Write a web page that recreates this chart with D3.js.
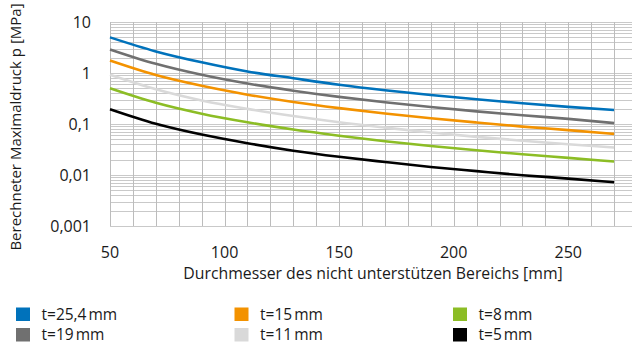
<!DOCTYPE html>
<html>
<head>
<meta charset="utf-8">
<script src="https://cdn.jsdelivr.net/npm/d3@7"></script>
<style>
  body { margin: 0; background: #fff; }
  text { font-family: "Open Sans", "Noto Sans", sans-serif; fill: #1a1a1a; }
</style>
</head>
<body>
<div id="my_dataviz"></div>
<script>
// x values (Durchmesser in mm)
var diameters = [50, 70, 90, 110, 130, 150, 170, 190, 210, 230, 250, 270];

// pressure values per plate thickness (MPa)
var p_25_4 = [5.0, 2.65, 1.62, 1.07, 0.79, 0.59, 0.46, 0.37, 0.305, 0.255, 0.217, 0.188];
var p_19   = [2.9, 1.51, 0.92, 0.62, 0.45, 0.34, 0.267, 0.215, 0.177, 0.148, 0.126, 0.104];
var p_15   = [1.75, 0.91, 0.56, 0.376, 0.27, 0.205, 0.161, 0.13, 0.107, 0.089, 0.076, 0.064];
var p_11   = [0.92, 0.48, 0.29, 0.198, 0.143, 0.108, 0.085, 0.068, 0.056, 0.047, 0.040, 0.0345];
var p_8    = [0.5, 0.26, 0.159, 0.108, 0.078, 0.059, 0.046, 0.037, 0.0305, 0.0255, 0.0217, 0.0184];
var p_5    = [0.195, 0.101, 0.062, 0.042, 0.030, 0.0228, 0.018, 0.0144, 0.0119, 0.0099, 0.0085, 0.0072];

var seriesNames = ["t=25,4\u202Fmm", "t=19\u202Fmm", "t=15\u202Fmm", "t=11\u202Fmm", "t=8\u202Fmm", "t=5\u202Fmm"];
var seriesValues = [p_25_4, p_19, p_15, p_11, p_8, p_5];
var seriesColors = ["#0072bb", "#707070", "#f39200", "#d9d9d9", "#8cbd25", "#000000"];

var xTicks = [50, 100, 150, 200, 250];
var yTicks = [10, 1, 0.1, 0.01, 0.001];
var yTickLabels = ["10", "1", "0,1", "0,01", "0,001"];

// legend order (row by row)
var legendOrder = [0, 2, 4, 1, 3, 5];

// dimensions
var W = 632, H = 344;
var margin = {top: 22, left: 110},
    width = 527,   // 50..280, cut by the page edge
    height = 204;

var svg = d3.select("#my_dataviz")
  .append("svg")
    .attr("width", W)
    .attr("height", H);

var g = svg.append("g")
    .attr("transform", "translate(" + margin.left + "," + margin.top + ")");

// scales
var x = d3.scaleLinear()
  .domain([50, 280])
  .range([0, width]);

var y = d3.scaleLog()
  .domain([0.001, 10])
  .range([height, 0]);

// horizontal grid (log minor + major)
var hLines = [];
[0.001, 0.01, 0.1, 1].forEach(function(dec) {
  for (var k = 1; k < 10; k++) hLines.push(dec * k);
});
hLines.push(10);

g.append("g")
  .selectAll("line")
  .data(hLines)
  .enter()
  .append("line")
    .attr("x1", 0)
    .attr("x2", width)
    .attr("y1", function(d) { return Math.round(y(d)) + 0.5; })
    .attr("y2", function(d) { return Math.round(y(d)) + 0.5; })
    .style("stroke", "#c9c9c9")
    .style("stroke-width", 1);

// vertical grid every 10 mm
g.append("g")
  .selectAll("line")
  .data(d3.range(50, 281, 10))
  .enter()
  .append("line")
    .attr("x1", function(d) { return Math.round(x(d)) + 0.5; })
    .attr("x2", function(d) { return Math.round(x(d)) + 0.5; })
    .attr("y1", 0)
    .attr("y2", height)
    .style("stroke", "#bcbcbc")
    .style("stroke-width", 1);

// lines
var line = d3.line()
  .curve(d3.curveMonotoneX)
  .x(function(d) { return x(d[0]); })
  .y(function(d) { return y(d[1]); });

seriesValues.slice().reverse().forEach(function(vals, j) {
  var i = seriesValues.length - 1 - j;
  g.append("path")
    .datum(diameters.map(function(dx, k) { return [dx, vals[k]]; }))
    .attr("d", line)
    .style("fill", "none")
    .style("stroke", seriesColors[i])
    .style("stroke-width", 2.6);
});

// y tick labels
g.append("g")
  .selectAll("text")
  .data(yTicks)
  .enter()
  .append("text")
    .attr("x", -19)
    .attr("y", function(d) { return y(d); })
    .attr("dy", "0.35em")
    .style("text-anchor", "end")
    .style("font-size", "16px")
    .text(function(d, i) { return yTickLabels[i]; });

// x tick labels
g.append("g")
  .selectAll("text")
  .data(xTicks)
  .enter()
  .append("text")
    .attr("x", function(d) { return x(d); })
    .attr("y", height + 32)
    .style("text-anchor", "middle")
    .style("font-size", "16px")
    .text(function(d) { return d; });

// X axis label
svg.append("text")
    .attr("text-anchor", "middle")
    .attr("x", 373)
    .attr("y", 279)
    .style("font-size", "15.8px")
    .text("Durchmesser des nicht unterstützen Bereichs [mm]");

// Y axis label
svg.append("text")
    .attr("text-anchor", "middle")
    .attr("transform", "translate(21,127) rotate(-90)")
    .style("font-size", "15px")
    .text("Berechneter Maximaldruck p [MPa]");

// legend
var legend = svg.selectAll(".legend")
    .data(legendOrder)
    .enter().append("g")
    .attr("class", "legend")
    .attr("transform", function(d, i) {
      return "translate(" + (16 + (i % 3) * 218.5) + "," + (307.5 + Math.floor(i / 3) * 20.5) + ")";
    });

legend.append("rect")
    .attr("width", 14)
    .attr("height", 13.5)
    .style("fill", function(d) { return seriesColors[d]; });

legend.append("text")
    .attr("x", 25.5)
    .attr("y", 7)
    .attr("dy", ".35em")
    .style("font-size", "15.5px")
    .text(function(d) { return seriesNames[d]; });
</script>
</body>
</html>
